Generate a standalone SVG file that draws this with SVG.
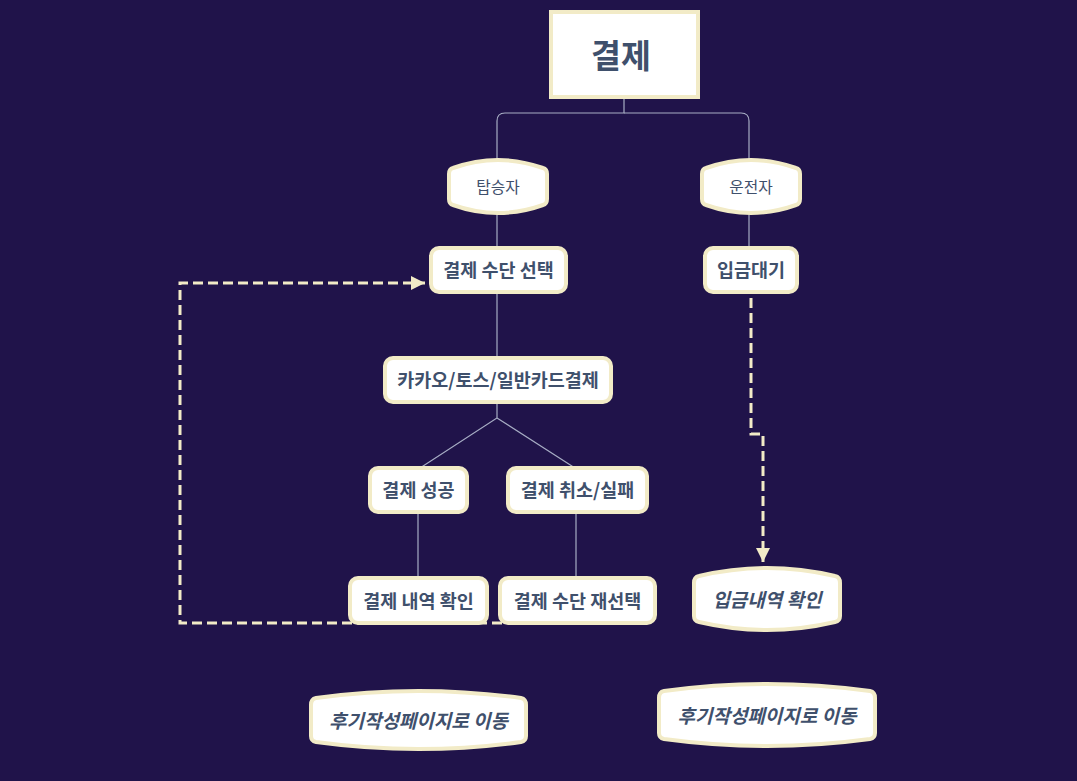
<svg xmlns="http://www.w3.org/2000/svg" width="1077" height="781" viewBox="0 0 1077 781">
<defs>
<style>
.node{fill:#ffffff;stroke:#f2ebc7;stroke-width:4}
.t{font-family:"Noto Sans CJK KR","Noto Sans",sans-serif;fill:#3f506c;text-anchor:middle;dominant-baseline:central}
.b{font-weight:bold;font-size:18.5px}
.i{font-weight:bold;font-style:italic;font-size:19px}
.n{font-size:15.8px}
.line{fill:none;stroke:#a7adc4;stroke-width:1.2}
.dash{fill:none;stroke:#f2ebc7;stroke-width:3;stroke-dasharray:10 5}
</style>
<marker id="arr" viewBox="0 0 10 10" refX="10" refY="5" markerWidth="15" markerHeight="14" markerUnits="userSpaceOnUse" orient="auto">
<path d="M0,0 L10,5 L0,10 Z" fill="#f2ebc7"/>
</marker>
</defs>
<rect width="1077" height="781" fill="#20134a"/>
<g id="connectors">
<path class="line" d="M624,97 V113 H505 Q497,113 497,121 V162"/>
<path class="line" d="M624,113 H741 Q749,113 749,121 V162"/>
<path class="line" d="M497,213 V248"/>
<path class="line" d="M749,213 V248"/>
<path class="line" d="M497,292 V358"/>
<path class="line" d="M497,402 V418 L420,468 M497,418 L575,468"/>
<path class="line" d="M418,512 V578"/>
<path class="line" d="M576,512 V578"/>
<path class="dash" d="M502,623 H180 V283 H425" marker-end="url(#arr)"/>
<path class="dash" d="M751,298 V434 H763 V562" marker-end="url(#arr)"/>
</g>
<g id="root">
<rect class="node" x="551" y="12" width="147" height="85"/>
<text class="t" x="621" y="53" font-size="32.5" font-weight="bold">결제</text>
</g>
<g id="passenger">
<path class="node" d="M453,168 Q498,152 543,168 Q547,169 547,174 V199 Q547,204 543,205 Q498,221 453,205 Q449,204 449,199 V174 Q449,169 453,168 Z"/>
<text class="t n" x="498" y="186">탑승자</text>
</g>
<g id="driver">
<path class="node" d="M706,168 Q751,152 796,168 Q800,169 800,174 V199 Q800,204 796,205 Q751,221 706,205 Q702,204 702,199 V174 Q702,169 706,168 Z"/>
<text class="t n" x="751" y="186">운전자</text>
</g>
<g id="select-method">
<rect class="node" x="431" y="248" width="135" height="44" rx="8"/>
<text class="t b" x="498.5" y="269">결제 수단 선택</text>
</g>
<g id="wait-deposit">
<rect class="node" x="705" y="248" width="92" height="44" rx="8"/>
<text class="t b" x="751" y="269">입금대기</text>
</g>
<g id="card-pay">
<rect class="node" x="385" y="358" width="226" height="44" rx="8"/>
<text class="t b" x="498" y="379">카카오/토스/일반카드결제</text>
</g>
<g id="pay-success">
<rect class="node" x="370" y="468" width="97" height="44" rx="8"/>
<text class="t b" x="418.5" y="489">결제 성공</text>
</g>
<g id="pay-fail">
<rect class="node" x="508" y="468" width="139" height="44" rx="8"/>
<text class="t b" x="577.5" y="489">결제 취소/실패</text>
</g>
<g id="pay-history">
<rect class="node" x="350" y="578" width="137" height="45" rx="8"/>
<text class="t b" x="418.5" y="600">결제 내역 확인</text>
</g>
<g id="reselect">
<rect class="node" x="500" y="578" width="155" height="45" rx="8"/>
<text class="t b" x="577.5" y="600">결제 수단 재선택</text>
</g>
<g id="deposit-history">
<path class="node" d="M699,576 Q767,560 835,576 Q840,577 840,583 V616 Q840,621 835,622 Q767,638 699,622 Q694,621 694,616 V583 Q694,577 699,576 Z"/>
<text class="t i" x="767" y="598">입금내역 확인</text>
</g>
<g id="review-left">
<path class="node" d="M316,698 Q418.5,684 521,698 Q526,699 526,705 V736 Q526,741 521,742 Q418.5,756 316,742 Q311,741 311,736 V705 Q311,699 316,698 Z"/>
<text class="t i" x="418.5" y="719">후기작성페이지로 이동</text>
</g>
<g id="review-right">
<path class="node" d="M664,691 Q767,677 870,691 Q875,692 875,698 V733 Q875,738 870,739 Q767,753 664,739 Q659,738 659,733 V698 Q659,692 664,691 Z"/>
<text class="t i" x="767" y="714">후기작성페이지로 이동</text>
</g>
</svg>
